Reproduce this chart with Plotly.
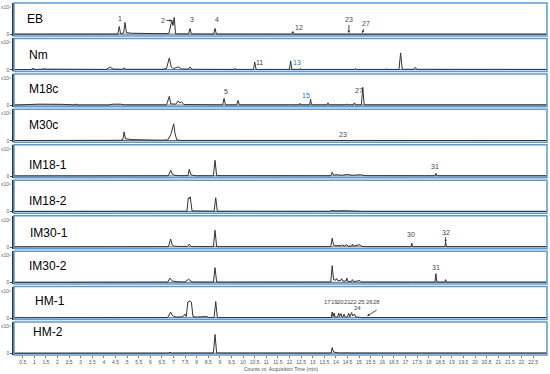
import plotly.graph_objects as go

# ---------------- data (time in min, relative intensity) ----------------
panel_names = ["EB", "Nm", "M18c", "M30c", "IM18-1", "IM18-2", "IM30-1", "IM30-2", "HM-1", "HM-2"]

eb_t = [0.12, 4.6, 4.66, 4.72, 4.85, 4.91, 4.97, 5.2, 6.5, 6.8, 6.93, 6.98, 7.03, 7.09, 7.65, 7.71, 7.77,
        8.73, 8.79, 8.85, 12.05, 12.09, 12.13, 14.52, 14.56, 14.6, 15.1, 15.13, 15.17, 23.1]
eb_y = [0.3, 0.4, 8, 0.8, 1.5, 12, 1.8, 1.2, 0.8, 1, 14, 9, 17, 0.6, 0.5, 6, 0.5,
        0.4, 6, 0.4, 0.3, 1, 0.3, 0.3, 1, 0.3, 0.3, 1, 0.3, 0.3]

nm_t = [0.12, 0.85, 0.94, 1.03, 1.3, 1.4, 1.5, 2.6, 3.0, 4.1, 4.26, 4.4, 4.8, 4.87, 4.95, 6.5, 6.7, 6.82, 6.9,
        7.0, 7.2, 7.35, 7.65, 7.71, 7.8, 8.8, 9.6, 9.65, 9.7, 10.45, 10.5, 10.56, 12.0, 12.05, 12.1, 12.45,
        12.47, 12.5, 13.49, 13.5, 13.52, 14.8, 14.84, 14.88, 16.16, 16.18, 16.2, 16.72, 16.79, 16.86, 17.35,
        17.41, 17.5, 19.5, 19.53, 19.56, 23.1]
nm_y = [0.3, 0.3, 1.5, 0.5, 0.6, 1.2, 0.8, 0.9, 0.6, 0.5, 3, 0.8, 0.7, 2, 0.6, 0.6, 1.5, 12, 3,
        1.2, 3, 1, 0.8, 3, 0.6, 0.5, 0.5, 1.5, 0.5, 0.5, 8, 0.5, 0.5, 9, 0.6, 0.5,
        1.5, 0.5, 0.5, 1, 0.5, 0.5, 1.5, 0.5, 0.5, 1.2, 0.5, 0.5, 17, 0.6, 0.6,
        2.5, 0.6, 0.5, 1.2, 0.5, 0.5]

m18_t = [0.12, 0.4, 1.2, 2.2, 2.5, 2.78, 2.8, 2.83, 4.2, 4.4, 4.7, 4.9, 6.7, 6.82, 6.88, 7.1, 7.2, 7.27,
         7.35, 7.45, 9.12, 9.18, 9.24, 9.72, 9.78, 9.84, 12.0, 12.02, 12.05, 12.42, 12.45, 12.48, 12.87,
         12.91, 12.95, 13.62, 13.66, 13.7, 14.45, 14.48, 14.52, 14.75, 14.8, 14.85, 15.1, 15.16, 15.22,
         17.54, 17.56, 17.6, 20.4, 20.56, 20.7, 23.1]
m18_y = [0.3, 0.5, 1.2, 1, 0.4, 0.4, 1.5, 0.4, 0.4, 1.2, 1.2, 0.5, 0.5, 9, 1.5, 1.2, 4.5, 2.5,
         3.5, 0.8, 0.5, 7, 0.5, 0.5, 5, 0.5, 0.5, 1.2, 0.5, 0.5, 2, 0.5, 0.5,
         6, 0.5, 0.5, 2.5, 0.5, 0.5, 1.5, 0.5, 0.5, 2.5, 0.5, 0.5, 18, 0.5,
         0.5, 1, 0.5, 0.5, 1.2, 0.5, 0.5]

m30_t = [0.12, 4.6, 4.65, 4.72, 4.82, 4.87, 4.93, 5.2, 6.4, 6.75, 6.88, 6.97, 7.01, 7.06, 7.14, 7.3,
         14.45, 14.49, 14.53, 16.72, 16.76, 16.8, 23.1]
m30_y = [0.3, 0.4, 1, 0.5, 1.5, 9, 2, 1.2, 0.6, 0.8, 6, 15, 17, 8, 1, 0.4,
         0.3, 1, 0.3, 0.3, 1, 0.3, 0.3]

im181_t = [0.12, 6.78, 6.88, 6.95, 7.05, 7.2, 7.62, 7.68, 7.74, 7.85, 8.0, 8.72, 8.79, 8.86, 13.78, 13.84,
           13.9, 14.05, 14.25, 14.5, 14.7, 15.05, 15.3, 18.27, 18.31, 18.35, 23.1]
im181_y = [0.3, 0.5, 6, 2, 1, 0.6, 0.6, 7, 2, 0.8, 0.5, 0.5, 16, 0.6, 0.5, 4,
           1.2, 1.5, 1, 1.8, 1, 1.5, 0.6, 0.5, 3, 0.5, 0.5]

im182_t = [0.12, 6.8, 6.85, 6.9, 7.58, 7.64, 7.68, 7.72, 7.8, 8.75, 8.82, 8.89, 13.75, 13.8, 14.0, 14.3,
           14.6, 14.9, 15.1, 23.1]
im182_y = [0.3, 0.4, 1, 0.4, 0.5, 14, 13, 15, 0.8, 0.5, 14, 0.5, 0.4, 1.2, 0.8, 1,
           0.8, 0.6, 0.4, 0.4]

im301_t = [0.12, 6.78, 6.88, 6.95, 7.05, 7.6, 7.68, 7.76, 8.72, 8.79, 8.86, 13.78, 13.84, 13.9, 14.0, 14.1,
           14.25, 14.3, 14.35, 14.47, 14.52, 14.68, 14.71, 14.75, 15.04, 15.1, 15.3, 17.24, 17.27, 17.31,
           18.29, 18.31, 18.33, 18.7, 18.73, 18.77, 23.1]
im301_y = [0.3, 0.5, 8, 2, 0.8, 0.6, 3, 0.6, 0.5, 17, 0.5, 0.5, 9, 2, 1.5, 1.2,
           1.5, 2.5, 1, 2.5, 1, 1, 3, 1, 2.5, 0.8, 0.5, 0.5, 4, 0.5,
           0.5, 1.2, 0.5, 0.5, 5, 0.5, 0.5]

im302_t = [0.12, 6.75, 6.85, 6.95, 7.2, 7.5, 7.65, 7.72, 7.8, 8.72, 8.79, 8.86, 10.35, 10.37, 10.39, 13.1,
           13.3, 13.5, 13.78, 13.84, 13.9, 14.0, 14.03, 14.08, 14.2, 14.25, 14.3, 14.44, 14.47, 14.52, 14.68,
           14.71, 14.76, 15.04, 15.1, 17.25, 17.27, 17.3, 18.27, 18.31, 18.35, 18.7, 18.73, 18.77, 23.1]
im302_y = [0.3, 0.5, 4.5, 1.5, 0.8, 0.6, 3.5, 2.5, 0.6, 0.5, 15, 0.5, 0.5, 1, 0.5, 0.5,
           1, 0.7, 0.6, 17, 3, 2.5, 4, 2, 2, 4, 1.5, 1.5, 4.5, 1.2, 1.2,
           3, 1, 2, 0.6, 0.5, 1, 0.5, 0.5, 9, 0.6, 0.5, 3, 0.5, 0.5]

hm1_t = [0.12, 6.75, 6.88, 6.95, 7.1, 7.4, 7.49, 7.55, 7.62, 7.7, 7.77, 7.84, 8.0, 8.4, 8.45, 8.5, 8.75,
         8.82, 8.89, 13.8, 13.84, 13.88, 13.92, 13.96, 14.08, 14.12, 14.16, 14.22, 14.26, 14.3, 14.35, 14.4,
         14.5, 14.55, 14.6, 14.68, 14.72, 14.8, 14.86, 15.0, 15.1, 23.1]
hm1_y = [0.3, 0.5, 6, 2.5, 1, 1.2, 4, 1.5, 16, 17, 16, 1.5, 1, 0.8, 1.5, 0.6, 0.5,
         16.5, 0.5, 0.5, 6, 1.5, 5, 1, 1, 5, 1.5, 4.5, 1, 1, 4, 1,
         1, 5, 1.2, 5.5, 2, 4, 1, 0.8, 0.5, 0.5]

hm2_t = [0.12, 6.8, 6.85, 6.9, 7.2, 7.6, 7.63, 7.7, 8.72, 8.79, 8.86, 13.8, 13.84, 13.9, 14.0, 14.1, 14.45,
         14.47, 14.5, 14.95, 14.98, 15.01, 23.1]
hm2_y = [0.3, 0.4, 1.5, 0.4, 0.5, 0.5, 1.2, 0.5, 0.5, 19, 0.5, 0.5, 6, 1.5, 1, 0.6, 0.5,
         1.2, 0.5, 0.5, 1.2, 0.5, 0.5]

series_t = [eb_t, nm_t, m18_t, m30_t, im181_t, im182_t, im301_t, im302_t, hm1_t, hm2_t]
series_y = [eb_y, nm_y, m18_y, m30_y, im181_y, im182_y, im301_y, im302_y, hm1_y, hm2_y]

# panel name label positions (time, intensity)
name_x = [0.60, 0.685, 0.685, 0.70, 0.70, 0.70, 0.73, 0.70, 0.94, 0.86]
name_y = [15.5, 14.7, 16.0, 16.3, 11.3, 11.0, 14.3, 16.7, 17.3, 21.5]

# peak labels: (panel, text, time, intensity, colour)
peak_labels = [
    (0, "1", 4.69, 15.5, "#444"), (0, "3", 7.8, 14.5, "#444"), (0, "4", 8.87, 14.5, "#444"),
    (1, "11", 10.7, 7.7, "#444"), (1, "13", 12.32, 7.7, "#2e75b6"),
    (2, "5", 9.26, 14, "#444"), (2, "15", 12.71, 10, "#2e75b6"), (2, "27", 14.98, 15, "#444"),
    (3, "23", 14.3, 6, "#444"),
    (4, "31", 18.27, 10, "#444"),
    (6, "30", 17.24, 13, "#444"),
    (7, "31", 18.31, 15.5, "#444"),
    (8, "17", 13.62, 15.6, "#444"), (8, "19", 13.92, 15.6, "#444"), (8, "20", 14.22, 15.6, "#444"),
    (8, "21", 14.48, 15.6, "#444"), (8, "22", 14.78, 15.6, "#444"), (8, "24", 14.92, 10.0, "#444"),
    (8, "25", 15.12, 15.6, "#444"), (8, "26", 15.43, 15.6, "#444"), (8, "28", 15.73, 15.6, "#444"),
]
# labels with arrows: (panel, text, peak time, peak intensity, ax px, ay px)
arrow_labels = [
    (0, "2", 6.93, 14, -9, 0), (0, "12", 12.09, 1, 7, -6), (0, "23", 14.56, 1.5, 0, -13),
    (0, "27", 15.13, 1.5, 4, -9),
    (6, "32", 18.73, 5, 0, -10),
    (8, "", 15.35, 2, 11, -7),
]

xticks = [0.5 * k for k in range(1, 46)]
xtick_text = [("%g" % v) for v in xticks]

# ---------------- layout ----------------
W, H = 550, 374
ML, MR, MT, MB = 14, 3, 3, 18.5
PH = H - MT - MB
pitch, ph = 35.5, 33.0
YR = [-1.5, 31.5]
blue = "#5b9bd5"
narrow = "Liberation Sans Narrow, Arial Narrow, Liberation Sans, sans-serif"

fig = go.Figure()
layout = dict(width=W, height=H, margin=dict(l=ML, r=MR, t=MT, b=MB, autoexpand=False),
              paper_bgcolor="white", plot_bgcolor="white", showlegend=False,
              font=dict(family="Liberation Sans, Arial, sans-serif"))
shapes, annots = [], []
n = len(panel_names)
for i in range(n):
    k = i + 1
    top = i * pitch
    bot = top + ph
    dom = [1 - bot / PH, 1 - top / PH]
    xn = "x" if k == 1 else "x%d" % k
    yn = "y" if k == 1 else "y%d" % k
    fig.add_trace(go.Scatter(x=series_t[i], y=series_y[i], mode="lines",
                             line=dict(color="#333333", width=1), xaxis=xn, yaxis=yn,
                             hoverinfo="skip"))
    last = (k == n)
    xa = dict(domain=[0, 1], range=[0.125, 23.1], anchor=yn, showgrid=False, zeroline=False,
              automargin=False,
              showline=False, showticklabels=last, ticks="outside" if last else "",
              tickvals=xticks, ticktext=xtick_text, ticklen=2, tickcolor="#777",
              tickfont=dict(size=5, color="#555"))
    if k > 1:
        xa["matches"] = "x"
    ya = dict(domain=dom, range=YR, anchor=xn, showgrid=False, zeroline=False, automargin=False,
              showline=True, linecolor="#333", linewidth=1.5,
              tickvals=[0], ticktext=["0"], ticks="outside", ticklen=2, tickcolor="#555",
              tickfont=dict(size=5, color="#555"))
    layout["xaxis" if k == 1 else "xaxis%d" % k] = xa
    layout["yaxis" if k == 1 else "yaxis%d" % k] = ya
    shapes.append(dict(type="rect", xref="paper", yref=yn + " domain", x0=0, x1=1, y0=0, y1=1,
                       line=dict(color=blue, width=1.5), layer="above"))
    shapes.append(dict(type="line", xref="paper", yref=yn, x0=0, x1=1, y0=0.3, y1=0.3,
                       line=dict(color="#666", width=1), layer="below"))
    annots.append(dict(text=panel_names[i], x=name_x[i], y=name_y[i], xref=xn, yref=yn,
                       xanchor="left", yanchor="middle", showarrow=False,
                       font=dict(size=12, color="black")))
    annots.append(dict(text="x10⁶", x=-0.002, y=27.5, xref="paper", yref=yn,
                       xanchor="right", yanchor="middle", showarrow=False,
                       font=dict(size=5, color="#666")))

for (p, txt, t, v, c) in peak_labels:
    k = p + 1
    annots.append(dict(text=txt, x=t, y=v, xref="x" if k == 1 else "x%d" % k,
                       yref="y" if k == 1 else "y%d" % k, showarrow=False,
                       font=dict(size=6 if p == 8 else 7, color=c, family=narrow)))
for (p, txt, t, v, ax, ay) in arrow_labels:
    k = p + 1
    annots.append(dict(text=txt, x=t, y=v, xref="x" if k == 1 else "x%d" % k,
                       yref="y" if k == 1 else "y%d" % k, showarrow=True, ax=ax, ay=ay,
                       arrowhead=2, arrowsize=0.6, arrowwidth=0.8, arrowcolor="#222",
                       font=dict(size=7, color="#444", family=narrow)))

annots.append(dict(text="Counts vs. Acquisition Time (min)", x=0.5, y=-(369.5 - MT - PH) / PH,
                   xref="paper", yref="paper", showarrow=False, xanchor="center", yanchor="middle",
                   font=dict(size=5, color="#555")))

layout["shapes"] = shapes
layout["annotations"] = annots
fig.update_layout(**layout)
fig.write_html("out.html", config={"displayModeBar": False},
               post_script="document.body.style.margin='0px';document.body.style.padding='0px';")
